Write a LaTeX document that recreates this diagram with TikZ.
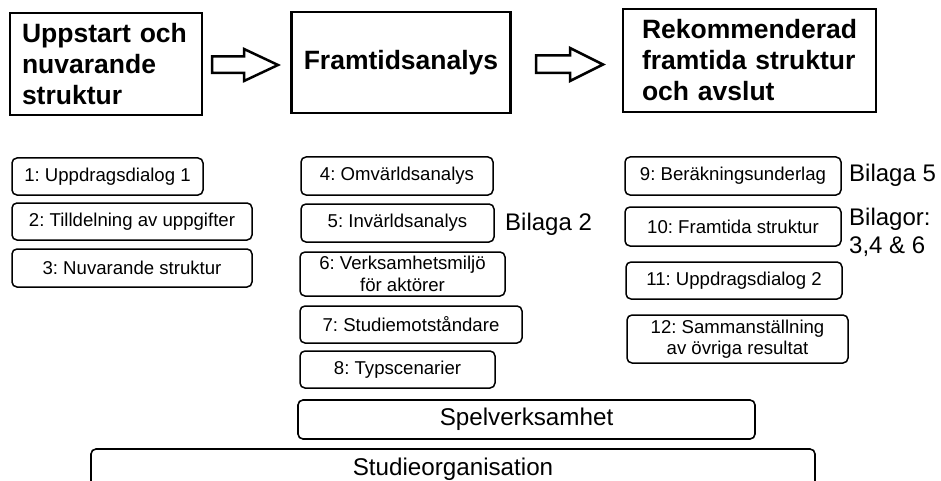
\documentclass[tikz,border=0pt]{standalone}
\usepackage{fontspec}
\setmainfont{Liberation Sans}
\frenchspacing
\begin{document}
\begin{tikzpicture}[x=1pt,y=-1pt,
  titlebox/.style={draw=black,line width=2.6pt,inner xsep=12pt,inner ysep=0pt,align=left,
    font=\fontsize{26.5}{31}\selectfont\bfseries},
  stepbox/.style={draw=black,line width=1.5pt,rounded corners=5pt,inner sep=0pt,align=center,
    font=\fontsize{18.6}{21.5}\selectfont},
  bigbox/.style={draw=black,line width=1.6pt,rounded corners=5pt,inner sep=0pt,align=center,
    font=\fontsize{24.2}{28}\selectfont},
  note/.style={inner sep=0pt,align=left,font=\fontsize{24}{28}\selectfont},
  blockarrow/.style={draw=black,line width=2.5pt,line join=miter,fill=white}]
\useasboundingbox (0,0) rectangle (941,481);
\clip (0,0) rectangle (941,481);
% title boxes
\node[titlebox,minimum width=192pt,minimum height=102pt,text width=168pt] (t1) at (106,64)
  {Uppstart och\\nuvarande\\struktur};
\node[titlebox,minimum width=216pt,minimum height=101pt,align=center] (t2) at (401,62.5)
  {Framtidsanalys};
\node[titlebox,inner xsep=19pt,minimum width=253pt,minimum height=103pt,text width=215pt] (t3) at (749.5,60.5)
  {Rekommenderad\\framtida struktur\\och avslut};
% block arrows
\draw[blockarrow] (212,56.5) -- (244,56.5) -- (244,49) -- (278,65) -- (244,81) -- (244,73) -- (212,73) -- cycle;
\draw[blockarrow] (536,55.5) -- (570,55.5) -- (570,48) -- (603,64.5) -- (570,81) -- (570,73) -- (536,73) -- cycle;
% column 1
\node[stepbox,minimum width=191pt,minimum height=37pt] (b1) at (107.5,176.5) {1: Uppdragsdialog 1};
\node[stepbox,minimum width=240pt,minimum height=37pt] (b2) at (132,221.5) {2: Tilldelning av uppgifter};
\node[stepbox,minimum width=240pt,minimum height=38pt] (b3) at (132,268) {3: Nuvarande struktur};
% column 2
\node[stepbox,minimum width=192pt,minimum height=38pt] (b4) at (397,176) {4: Omvärldsanalys};
\node[stepbox,minimum width=193pt,minimum height=38pt] (b5) at (397.5,223) {5: Invärldsanalys};
\node[stepbox,minimum width=205pt,minimum height=44pt] (b6) at (402.5,274) {6: Verksamhetsmiljö\\för aktörer};
\node[stepbox,minimum width=222pt,minimum height=37pt] (b7) at (411,324.5) {7: Studiemotståndare};
\node[stepbox,minimum width=195pt,minimum height=37pt] (b8) at (397.5,369.5) {8: Typscenarier};
% column 3
\node[stepbox,minimum width=216pt,minimum height=38pt] (b9) at (733,176) {9: Beräkningsunderlag};
\node[stepbox,minimum width=216pt,minimum height=39pt] (b10) at (733,226.5) {10: Framtida struktur};
\node[stepbox,minimum width=216pt,minimum height=37pt] (b11) at (734,280.5) {11: Uppdragsdialog 2};
\node[stepbox,minimum width=221pt,minimum height=48pt] (b12) at (737.5,339) {12: Sammanställning\\av övriga resultat};
% notes
\node[note,anchor=base west] (n2) at (505,230) {Bilaga 2};
\node[note,anchor=base west] (n5) at (849,182) {Bilaga 5};
\node[note,anchor=north west] (n346) at (849,207.5) {Bilagor:\\3,4 \& 6};
% bottom bars
\node[bigbox,minimum width=457pt,minimum height=39pt] (spel) at (526.5,419.5) {Spelverksamhet};
\node[bigbox,minimum width=724pt,minimum height=40pt] (studie) at (453,469) {Studieorganisation};
\end{tikzpicture}
\end{document}
